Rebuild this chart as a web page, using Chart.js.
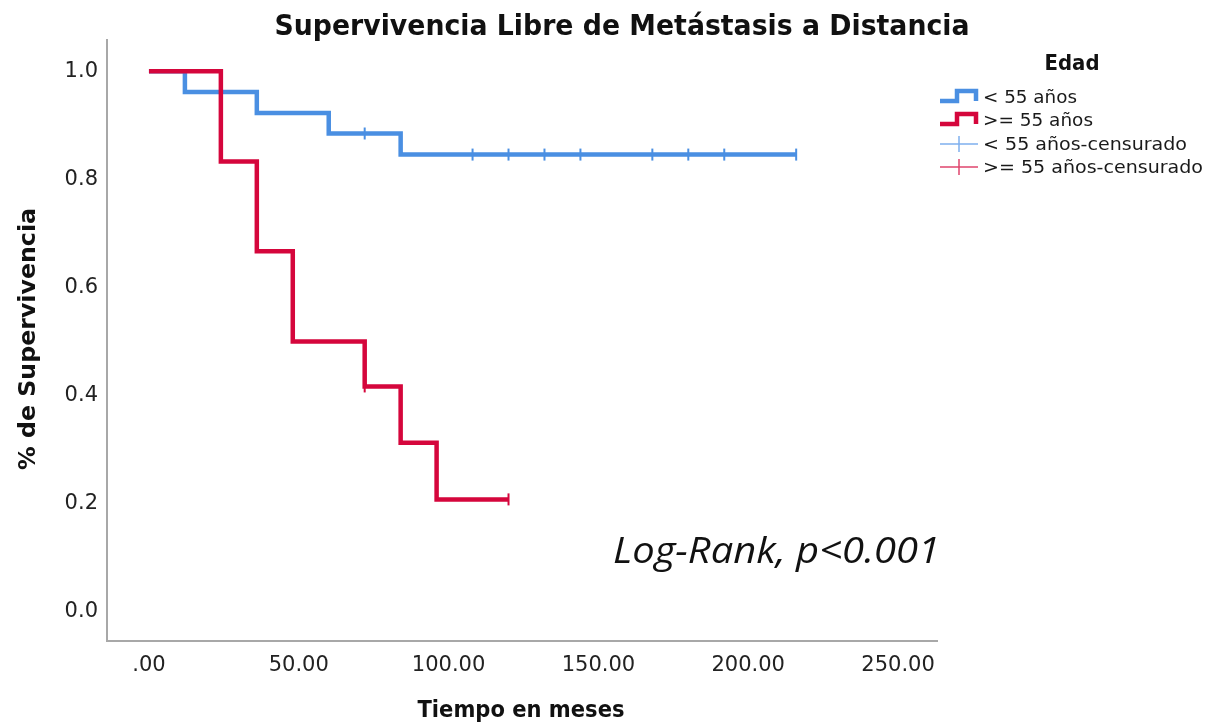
<!DOCTYPE html>
<html>
<head>
<meta charset="utf-8">
<script src="https://cdn.jsdelivr.net/npm/chart.js@4.4.1/dist/chart.umd.min.js"></script>
<style>
  html, body { margin: 0; padding: 0; background: #fff; }
  #wrap { width: 1211px; height: 723px; position: relative; }
</style>
</head>
<body>
<div id="wrap"><canvas id="km"></canvas></div>
<script>
"use strict";
// Kaplan-Meier curves (time in months, survival fraction)
var timesLt55 = [0, 12, 36, 60, 84, 216];
var survLt55 = [1.0, 0.962, 0.923, 0.885, 0.846, 0.846];
var censTimesLt55 = [72, 108, 120, 132, 144, 168, 180, 192, 216];
var censSurvLt55 = [0.885, 0.846, 0.846, 0.846, 0.846, 0.846, 0.846, 0.846, 0.846];

var timesGe55 = [0, 24, 36, 48, 72, 84, 96, 120];
var survGe55 = [1.0, 0.833, 0.667, 0.5, 0.417, 0.313, 0.208, 0.208];
var censTimesGe55 = [72, 120];
var censSurvGe55 = [0.417, 0.208];

var xTickValues = [0, 50, 100, 150, 200, 250];
var yTickValues = [0, 0.2, 0.4, 0.6, 0.8, 1.0];

var groupLabels = ["< 55 años", ">= 55 años", "< 55 años-censurado", ">= 55 años-censurado"];

var BLUE = "#4a8fe2";
var RED = "#d5063c";
var BLUE_LIGHT = "#7fb0ee";
var RED_LIGHT = "#e0466d";

function toPoints(xs, ys) {
	var out = [];
	for (var i = 0; i < xs.length; i++) {
		out.push({ x: xs[i], y: ys[i] });
	}
	return out;
}

// draw text squeezed/stretched to a target width
function fitText(ctx, text, x, y, w, font, align, color, rot) {
	ctx.save();
	ctx.font = font;
	var m = ctx.measureText(text).width;
	ctx.translate(x, y);
	if (rot) ctx.rotate(rot);
	ctx.scale(w / m, 1);
	ctx.textAlign = align;
	ctx.textBaseline = "alphabetic";
	ctx.fillStyle = color;
	ctx.fillText(text, 0, 0);
	ctx.restore();
}

var annotations = {
	id: "annotations",
	afterDraw: function(chart) {
		var ctx = chart.ctx;
		fitText(ctx, "Supervivencia Libre de Metástasis a Distancia", 622, 35, 695, 'bold 29px "DejaVu Sans"', "center", "#111");
		fitText(ctx, "% de Supervivencia", 35, 339, 262, 'bold 23px "DejaVu Sans"', "center", "#111", -Math.PI / 2);
		fitText(ctx, "Tiempo en meses", 521, 717, 207, 'bold 23px "DejaVu Sans"', "center", "#111");
		fitText(ctx, "Log-Rank, p<0.001", 613, 563, 327, 'italic 37px "Open Sans"', "left", "#111");

		// legend
		fitText(ctx, "Edad", 1072, 70, 55, 'bold 21px "DejaVu Sans"', "center", "#111");
		var rows = [103, 126, 150, 173];
		var widths = [94, 110, 204, 220];
		for (var i = 0; i < groupLabels.length; i++) {
			fitText(ctx, groupLabels[i], 983, rows[i], widths[i], '18px "DejaVu Sans"', "left", "#1a1a1a");
		}
		ctx.save();
		ctx.lineJoin = "miter";
		[[BLUE, 97], [RED, 120]].forEach(function(s) {
			var cy = s[1];
			ctx.strokeStyle = s[0];
			ctx.lineWidth = 4.5;
			ctx.beginPath();
			ctx.moveTo(940, cy + 4);
			ctx.lineTo(957, cy + 4);
			ctx.lineTo(957, cy - 6);
			ctx.lineTo(976, cy - 6);
			ctx.lineTo(976, cy + 4);
			ctx.stroke();
		});
		[[BLUE_LIGHT, 144], [RED_LIGHT, 167]].forEach(function(s) {
			var cy = s[1];
			ctx.strokeStyle = s[0];
			ctx.lineWidth = 1.5;
			ctx.beginPath();
			ctx.moveTo(940, cy);
			ctx.lineTo(978, cy);
			ctx.moveTo(959, cy - 8);
			ctx.lineTo(959, cy + 8);
			ctx.stroke();
		});
		ctx.restore();
	}
};

var tickFont = { family: '"DejaVu Sans"', size: 21 };

new Chart(document.getElementById("km"), {
	type: "line",
	data: {
		datasets: [{
			label: groupLabels[1],
			data: toPoints(timesGe55, survGe55),
			stepped: true,
			borderColor: RED,
			borderWidth: 4.5,
			pointRadius: 0,
			fill: false,
			order: 1
		}, {
			label: groupLabels[0],
			data: toPoints(timesLt55, survLt55),
			stepped: true,
			borderColor: BLUE,
			borderWidth: 4.5,
			pointRadius: 0,
			fill: false,
			order: 2
		}, {
			label: groupLabels[2],
			data: toPoints(censTimesLt55, censSurvLt55),
			showLine: false,
			pointStyle: "line",
			rotation: 90,
			pointRadius: 6,
			borderColor: BLUE,
			pointBorderWidth: 2,
			order: 0
		}, {
			label: groupLabels[3],
			data: toPoints(censTimesGe55, censSurvGe55),
			showLine: false,
			pointStyle: "line",
			rotation: 90,
			pointRadius: 6,
			borderColor: RED,
			pointBorderWidth: 2,
			order: 0
		}]
	},
	options: {
		responsive: true,
		maintainAspectRatio: false,
		animation: false,
		devicePixelRatio: 1,
		layout: { padding: { left: 0, right: 274, top: 40, bottom: 0 } },
		plugins: {
			legend: { display: false },
			tooltip: { enabled: false },
			title: { display: false }
		},
		scales: {
			x: {
				type: "linear",
				min: -14,
				max: 263,
				grid: { display: false, drawTicks: false },
				border: { display: true, color: "#a8a8a8", width: 2 },
				afterBuildTicks: function(scale) {
					scale.ticks = xTickValues.map(function(v) { return { value: v }; });
				},
				afterFit: function(scale) { scale.height = 82; },
				ticks: {
					padding: 12,
					maxRotation: 0,
					color: "#222",
					font: tickFont,
					callback: function(v) { return v === 0 ? ".00" : v.toFixed(2); }
				}
			},
			y: {
				type: "linear",
				min: -0.054,
				max: 1.058,
				grid: { display: false, drawTicks: false },
				border: { display: true, color: "#a8a8a8", width: 2 },
				afterBuildTicks: function(scale) {
					scale.ticks = yTickValues.map(function(v) { return { value: v }; });
				},
				afterFit: function(scale) { scale.width = 107; },
				ticks: {
					padding: 9,
					color: "#222",
					font: tickFont,
					callback: function(v) { return v.toFixed(1); }
				}
			}
		}
	},
	plugins: [annotations]
});
</script>
</body>
</html>
